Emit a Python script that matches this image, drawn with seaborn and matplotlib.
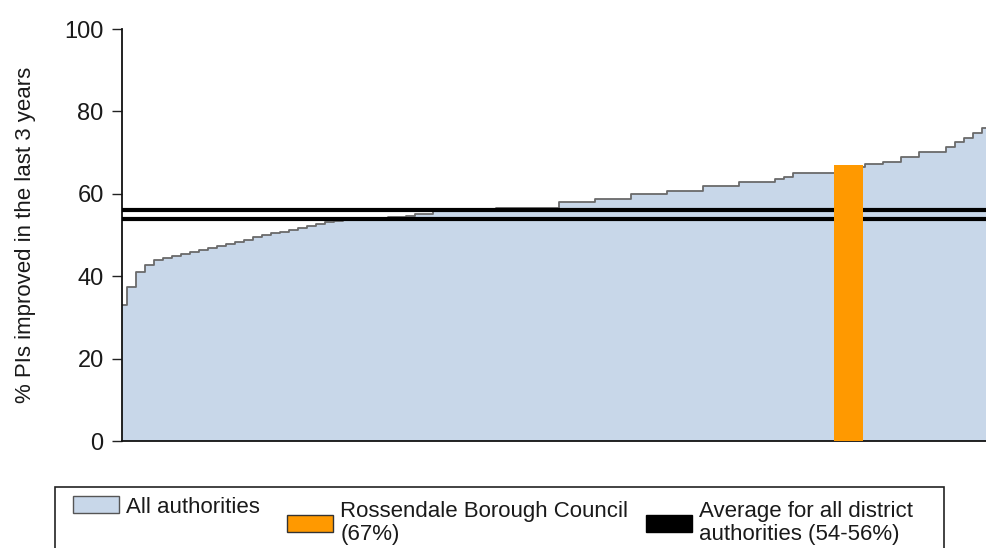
import numpy as np
import matplotlib
matplotlib.use("Agg")
import matplotlib.pyplot as plt
import seaborn as sns
from matplotlib.patches import Patch, Rectangle

# ---- data ----
ranks = np.arange(97)
pi_improved = [
    33.0, 37.5, 41.0, 42.8, 44.0, 44.5, 45.0, 45.3, 45.8, 46.3,
    46.8, 47.3, 47.8, 48.3, 48.8, 49.5, 50.0, 50.5, 50.8, 51.3,
    51.7, 52.2, 52.7, 53.2, 53.4, 53.6, 53.8, 54.0, 54.1, 54.2,
    54.3, 54.4, 54.5, 55.0, 55.0, 55.8, 55.9, 55.9, 56.0, 56.0,
    56.0, 56.0, 56.6, 56.6, 56.6, 56.6, 56.6, 56.6, 56.6, 58.0,
    58.0, 58.0, 58.0, 58.8, 58.8, 58.8, 58.8, 60.0, 60.0, 60.0,
    60.0, 60.7, 60.7, 60.7, 60.7, 61.9, 61.9, 61.9, 61.9, 62.9,
    62.9, 62.9, 62.9, 63.5, 64.0, 65.0, 65.0, 65.0, 65.0, 65.0,
    65.5, 66.0, 66.5, 67.2, 67.2, 67.7, 67.7, 69.0, 69.0, 70.1,
    70.1, 70.1, 71.4, 72.6, 73.5, 74.8, 76.0,
]
council_name = "Rossendale Borough Council"
council_rank = 80.7
council_value = 67
avg_low, avg_high = 54, 56
yticks = [0, 20, 40, 60, 80, 100]

# ---- style ----
sns.set_style("ticks")
plt.rcParams["font.family"] = ["Liberation Sans", "DejaVu Sans"]

FILL = "#c8d7e9"
EDGE = "#6a6a6a"
ORANGE = "#ff9900"
TEXT = "#1a1a1a"
W, H = 986, 548

fig = plt.figure(figsize=(W / 100, H / 100), dpi=100)
ax = fig.add_axes([122 / W, 1 - 441 / H, 864 / W, 412 / H])

ax.fill_between(ranks, pi_improved, step="mid", color=FILL, lw=0, zorder=1)
sns.lineplot(x=ranks, y=pi_improved, drawstyle="steps-mid", color=EDGE,
             lw=1.3, ax=ax, zorder=2)
for v in (avg_low, avg_high):
    ax.axhline(v, color="black", lw=3.0, zorder=3)
ax.bar([council_rank], [council_value], width=3.2, color=ORANGE, lw=0, zorder=4)

ax.set_xlim(ranks[0], ranks[-1])
ax.set_ylim(0, 100)
ax.set_yticks(yticks)
ax.set_xticks([])
ax.tick_params(axis="y", direction="out", length=7.2, width=1, color="#222222",
               pad=6, labelsize=17, labelcolor=TEXT)
for s in ("top", "right"):
    ax.spines[s].set_visible(False)
for s in ("left", "bottom"):
    ax.spines[s].set_color("#111111")
    ax.spines[s].set_linewidth(1.3)
ax.set_ylabel("% PIs improved in the last 3 years", fontsize=16, color=TEXT)
ax.yaxis.set_label_coords(-0.0995, 0.5)

# legend box (bottom edge runs off the image)
fig.patches.append(Rectangle((55 / W, -0.05), (944 - 55) / W, 1 - 487 / H + 0.05,
                             transform=fig.transFigure, fill=False,
                             edgecolor="#222222", lw=1.2))

FS = 16


def add_entry(handle, label, x_px, yc_px):
    leg = fig.legend([handle], [label], loc="center left",
                     bbox_to_anchor=(x_px / W, 1 - yc_px / H), frameon=False,
                     fontsize=FS, handlelength=2.07, handleheight=0.78,
                     handletextpad=0.33, borderpad=0, borderaxespad=0)
    for t in leg.get_texts():
        t.set_color(TEXT)
        t.set_linespacing(1.08)
    return leg


add_entry(Patch(facecolor=FILL, edgecolor="#555555", lw=1),
          "All authorities", 73, 507)
add_entry(Patch(facecolor=ORANGE, edgecolor="#333333", lw=1),
          f"{council_name}\n({council_value}%)", 287, 523)
add_entry(Patch(facecolor="black", edgecolor="black", lw=1),
          f"Average for all district\nauthorities ({avg_low}-{avg_high}%)", 646, 523)

fig.savefig("out.png", dpi=100)
